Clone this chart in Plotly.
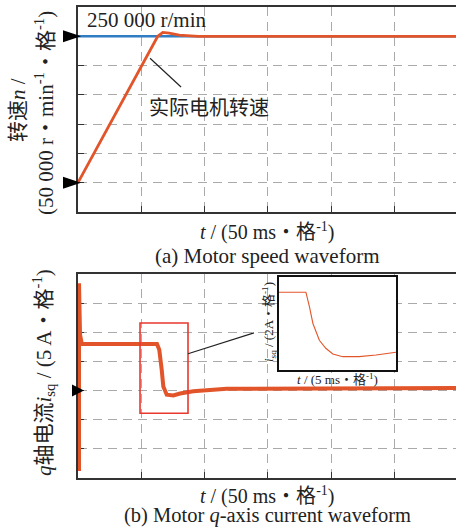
import plotly.graph_objects as go

# ---------------- data ----------------
# (a) speed, t in ms, n in r/min
ref_t = [0, 298.6]
ref_n = [250000, 250000]
speed_t = [0, 63.0, 67.0, 72.0, 80.0, 95.0, 298.6]
speed_n = [0, 250000, 256500, 255500, 252000, 250000, 250000]

# (b) q-axis current, t in ms, i in A
cur_t = [0.8, 0.8, 1.6, 3.0, 62.4, 64.2, 66.1, 67.4, 70.1, 75.3, 80.6, 91.1, 117.5, 298.6]
cur_i = [-13.8, 18.4, 9.6, 8.0, 8.0, 7.0, 3.6, 0.7, -0.7, -0.85, -0.5, -0.1, 0.3, 0.45]

# inset, t in ms, i in A
ins_t = [0, 4.6, 5.2, 5.8, 6.9, 8.0, 9.2, 10.9, 13.7, 16.6, 20]
ins_i = [8.0, 8.0, 6.1, 3.9, 1.7, 0.65, -0.1, -0.45, -0.45, -0.24, 0.12]

ORANGE = "#E2552A"
BLUE = "#2F7DC3"
RED = "#E8382F"
GRID = "#AAAAAA"
AX = "#333333"
FONT = "Liberation Serif, Noto Sans CJK SC, serif"

Y1_DOM = [0.5648, 1.0]
Y1_RANGE = [-50000, 300000]
Y2_DOM = [0.0, 0.4331]
Y2_RANGE = [-15, 20]


def to_paper(v, dom, rng):
    return dom[0] + (dom[1] - dom[0]) * (v - rng[0]) / (rng[1] - rng[0])


fig = go.Figure()
fig.add_trace(go.Scatter(x=ref_t, y=ref_n, mode="lines", line=dict(color=BLUE, width=2.5),
                         xaxis="x", yaxis="y", showlegend=False))
fig.add_trace(go.Scatter(x=speed_t, y=speed_n, mode="lines", line=dict(color=ORANGE, width=2.8),
                         xaxis="x", yaxis="y", showlegend=False))
fig.add_trace(go.Scatter(x=cur_t, y=cur_i, mode="lines", line=dict(color=ORANGE, width=4),
                         xaxis="x2", yaxis="y2", showlegend=False))
fig.add_trace(go.Scatter(x=ins_t, y=ins_i, mode="lines", line=dict(color=ORANGE, width=1.1),
                         xaxis="x3", yaxis="y3", showlegend=False))

common_x = dict(range=[0, 298.6], tick0=0, dtick=50, showticklabels=False, ticks="inside",
                ticklen=6, tickcolor=AX, tickwidth=1.2, showgrid=True, gridcolor=GRID,
                gridwidth=1.3, griddash="9px,6px", showline=True, linecolor=AX, linewidth=1.6,
                mirror=True, zeroline=False)
common_y = dict(showticklabels=False, ticks="inside", ticklen=6, tickcolor=AX, tickwidth=1.2,
                showgrid=True, gridcolor=GRID, gridwidth=1.3, griddash="9px,6px",
                showline=True, linecolor=AX, linewidth=1.6, mirror=False, zeroline=False,
                layer="below traces")

fig.update_layout(
    width=456, height=528,
    margin=dict(l=78, r=0, t=7, b=50),
    paper_bgcolor="white", plot_bgcolor="white",
    font=dict(family=FONT, color="#222222", size=20),
    xaxis=dict(domain=[0, 1], anchor="y", **common_x),
    yaxis=dict(domain=Y1_DOM, anchor="x", range=Y1_RANGE, tick0=0, dtick=50000, **common_y),
    xaxis2=dict(domain=[0, 1], anchor="y2", **common_x),
    yaxis2=dict(domain=Y2_DOM, anchor="x2", range=Y2_RANGE, tick0=0, dtick=5, **common_y),
    xaxis3=dict(domain=[0.5317, 0.8413], anchor="y3", range=[0, 20], showgrid=False,
                showticklabels=False, ticks="", showline=True, linecolor="#111111", linewidth=1.5,
                mirror=True, zeroline=False),
    yaxis3=dict(domain=[0.2293, 0.4268], anchor="x3", range=[-2.2, 10], showgrid=False,
                showticklabels=False, ticks="", showline=True, linecolor="#111111", linewidth=1.5,
                mirror=True, zeroline=False),
)


def tri(yp, path):
    return dict(type="path", xref="paper", yref="paper", xsizemode="pixel", ysizemode="pixel",
                xanchor=0, yanchor=yp, path=path, fillcolor="black", line=dict(width=0),
                layer="above")


shapes = [
    tri(to_paper(250000, Y1_DOM, Y1_RANGE), "M -15,-6 L 3,0 L -15,6 Z"),
    tri(to_paper(0, Y1_DOM, Y1_RANGE), "M -15,-6 L 3,0 L -15,6 Z"),
    tri(to_paper(0, Y2_DOM, Y2_RANGE), "M -6,-6 L 6,0 L -6,6 Z"),
    # leader line top
    dict(type="line", xref="x", yref="y", x0=56.9, y0=212600, x1=81.4, y1=163300,
         line=dict(color="#222222", width=1.2)),
    # red box
    dict(type="rect", xref="x2", yref="y2", x0=49.0, x1=86.9, y0=-3.9, y1=11.6,
         line=dict(color=RED, width=1.6)),
    # connector to inset
    dict(type="line", xref="x2", yref="y2", x0=86.9, y0=6.31, x1=139.0, y1=9.9,
         line=dict(color="#222222", width=1.2)),
]
fig.update_layout(shapes=shapes)

ann = [
    dict(x=0.1825, y=0.9724, text="250 000 r/min", font=dict(size=21)),
    dict(x=0.3466, y=0.7856, text="实际电机转速", font=dict(size=20)),
    dict(x=0.5, y=(478 - 231) / 471, text="<i>t</i> / (50 ms・格<sup>-1</sup>)", font=dict(size=20)),
    dict(x=0.5, y=(478 - 256) / 471, text="(a) Motor speed waveform", font=dict(size=21)),
    dict(x=0.5, y=(478 - 495.5) / 471, text="<i>t</i> / (50 ms・格<sup>-1</sup>)", font=dict(size=20)),
    dict(x=0.5, y=(478 - 515) / 471, text="(b) Motor <i>q</i>-axis current waveform", font=dict(size=20.5)),
    dict(x=(18 - 78) / 378, y=(478 - 110) / 471, text="转速<i>n</i> /", textangle=-90, font=dict(size=21)),
    dict(x=(45 - 78) / 378, y=(478 - 113) / 471, text="(50 000 r・min<sup>-1</sup>・格<sup>-1</sup>)",
         textangle=-90, font=dict(size=21)),
    dict(x=(43 - 78) / 378, y=(478 - 373) / 471,
         text="<i>q</i>轴电流<i>i</i><sub>sq</sub> / (5 A・格<sup>-1</sup>)",
         textangle=-90, font=dict(size=21)),
    dict(x=0.6878, y=0.2102, text="<i>t</i> / (5 ms・格<sup>-1</sup>)", font=dict(size=13)),
    dict(x=0.5053, y=0.3312, text="<i>i</i><sub>sq</sub> / (2A・格<sup>-1</sup>)", textangle=-90,
         font=dict(size=13)),
]
for a in ann:
    a.update(xref="paper", yref="paper", showarrow=False, xanchor="center", yanchor="middle")
fig.update_layout(annotations=ann)

fig.write_html("out.html", config={"displayModeBar": False},
               post_script="document.body.style.margin='0';")
